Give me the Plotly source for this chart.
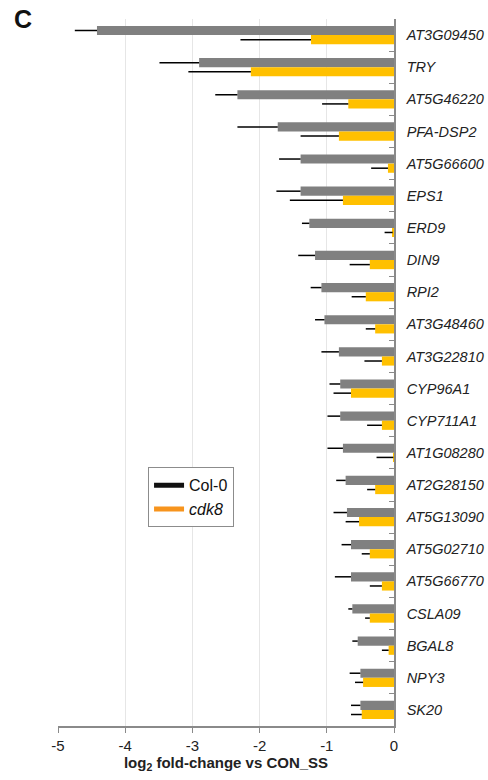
import plotly.graph_objects as go

# Genes, top to bottom
genes = ["AT3G09450", "TRY", "AT5G46220", "PFA-DSP2", "AT5G66600", "EPS1", "ERD9",
         "DIN9", "RPI2", "AT3G48460", "AT3G22810", "CYP96A1", "CYP711A1", "AT1G08280",
         "AT2G28150", "AT5G13090", "AT5G02710", "AT5G66770", "CSLA09", "BGAL8",
         "NPY3", "SK20"]

# log2 fold-change vs CON_SS
col0_lfc = [-4.42, -2.90, -2.33, -1.73, -1.39, -1.39, -1.26, -1.175, -1.08, -1.035, -0.82,
            -0.80, -0.80, -0.76, -0.72, -0.70, -0.64, -0.64, -0.62, -0.54, -0.50, -0.50]
col0_err = [0.33, 0.59, 0.33, 0.60, 0.32, 0.36, 0.11, 0.25, 0.16, 0.14, 0.26,
            0.16, 0.19, 0.23, 0.14, 0.20, 0.14, 0.24, 0.06, 0.08, 0.16, 0.14]

cdk8_lfc = [-1.235, -2.13, -0.68, -0.82, -0.09, -0.76, -0.02, -0.36, -0.42, -0.28, -0.18,
            -0.64, -0.18, -0.01, -0.28, -0.52, -0.36, -0.18, -0.36, -0.08, -0.46, -0.48]
cdk8_err = [1.05, 0.93, 0.39, 0.57, 0.25, 0.79, 0.12, 0.30, 0.21, 0.14, 0.26,
            0.26, 0.22, 0.25, 0.12, 0.20, 0.12, 0.18, 0.07, 0.10, 0.12, 0.16]

x_ticks = [-5, -4, -3, -2, -1, 0]

FONT = "Arial, Liberation Sans, sans-serif"


def err_left(vals):
    return dict(type="data", symmetric=False, array=[0] * len(vals), arrayminus=vals,
                color="black", thickness=1.5, width=0)


fig = go.Figure()
fig.add_trace(go.Bar(y=genes, x=col0_lfc, orientation="h", name="Col-0",
                     marker=dict(color="#808080", line=dict(width=0)),
                     error_x=err_left(col0_err), showlegend=False))
fig.add_trace(go.Bar(y=genes, x=cdk8_lfc, orientation="h", name="cdk8",
                     marker=dict(color="#FFC000", line=dict(width=0)),
                     error_x=err_left(cdk8_err), showlegend=False))

# legend keys
fig.add_trace(go.Scatter(x=[None], y=[None], mode="lines", name="Col-0",
                         line=dict(color="#111111", width=5)))
fig.add_trace(go.Scatter(x=[None], y=[None], mode="lines", name="<i>cdk8</i>",
                         line=dict(color="#F7941D", width=5)))

fig.update_layout(
    width=488, height=780,
    margin=dict(l=58, r=94, t=19, b=54, autoexpand=False),
    paper_bgcolor="white", plot_bgcolor="white",
    barmode="group", bargap=0.43, bargroupgap=0,
    font=dict(family=FONT, color="#222222"),
    legend=dict(x=0.268, y=0.366, xanchor="left", yanchor="top",
                bgcolor="white", bordercolor="#8c8c8c", borderwidth=1,
                font=dict(size=16, family=FONT, color="#111111")),
    xaxis=dict(range=[-5, 0], tickvals=x_ticks, ticktext=[str(v) for v in x_ticks],
               showgrid=True, gridcolor="#e6e6e6", gridwidth=1, zeroline=False,
               showline=True, linecolor="#8a8a8a", linewidth=1.5,
               ticks="outside", ticklen=5, tickcolor="#8a8a8a",
               tickfont=dict(size=15, family=FONT, color="#222222"),
               automargin=False,
               title=dict(text="<b>log<sub>2</sub> fold-change vs CON_SS</b>",
                          font=dict(size=15, family=FONT, color="#222222"),
                          standoff=4)),
    yaxis=dict(type="category", categoryorder="array", categoryarray=genes,
               autorange="reversed", side="right",
               showgrid=False, zeroline=False, automargin=False,
               showline=True, linecolor="#8a8a8a", linewidth=1.5,
               ticks="inside", tickson="boundaries", ticklen=5, tickcolor="#8a8a8a",
               ticklabelstandoff=8,
               tickfont=dict(size=14.5, family=FONT, color="#222222", style="italic")),
    annotations=[dict(text="<b>C</b>", xref="paper", yref="paper",
                      x=-0.104, y=1.0, xanchor="center", yanchor="middle",
                      showarrow=False, font=dict(size=25, family=FONT, color="#111111"))],
)

fig.write_html("out.html")
